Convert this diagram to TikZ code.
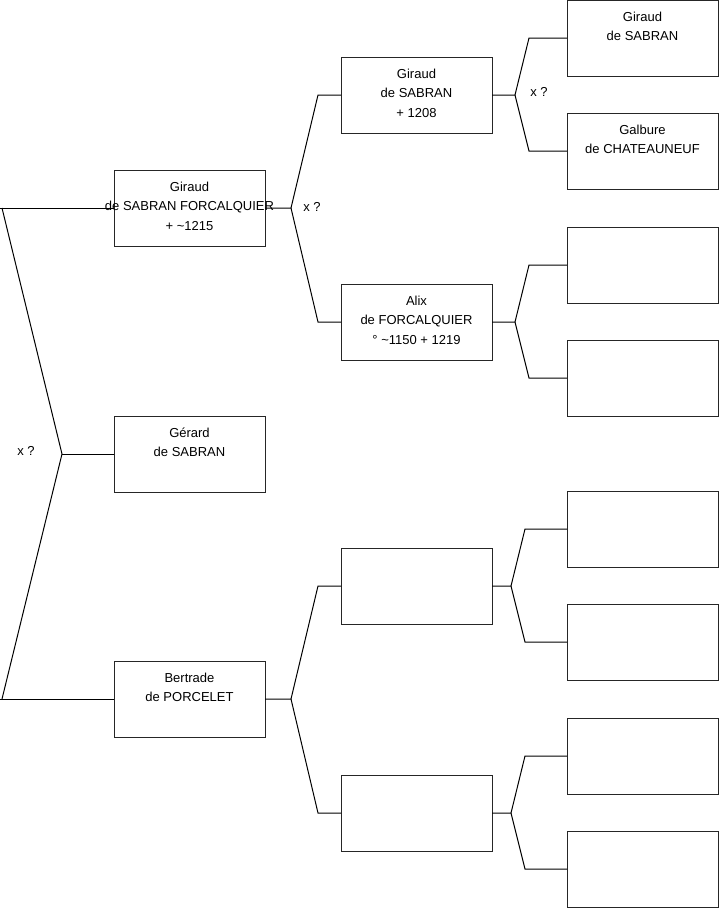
\documentclass[tikz,border=0pt]{standalone}
\usepackage{fontspec}
\setmainfont{Liberation Sans}
\begin{document}
\begin{tikzpicture}[x=1pt,y=-1pt,
  famsbox/.style={draw=black!85,line width=1pt,minimum width=151pt,minimum height=76pt,inner sep=0pt,outer sep=0pt,anchor=north west},
  famtext/.style={align=center,anchor=north,inner sep=0pt,font=\fontsize{13}{19.5}\selectfont},
  link/.style={draw=black,line width=1pt},
  lbl/.style={font=\fontsize{13}{14}\selectfont,inner sep=0pt}]
\useasboundingbox (0,0) rectangle (719,908);
\fill[white] (0,0) rectangle (719,908);

% generation 1
\node[famsbox] (g1a) at (114,170) {};
\node[famsbox] (g1b) at (114,416) {};
\node[famsbox] (g1c) at (114,661) {};
% generation 2
\node[famsbox] (g2a) at (341,57) {};
\node[famsbox] (g2b) at (341,284) {};
\node[famsbox] (g2c) at (341,548) {};
\node[famsbox] (g2d) at (341,775) {};
% generation 3
\node[famsbox] (g3a) at (567,0) {};
\node[famsbox] (g3b) at (567,113) {};
\node[famsbox] (g3c) at (567,227) {};
\node[famsbox] (g3d) at (567,340) {};
\node[famsbox] (g3e) at (567,491) {};
\node[famsbox] (g3f) at (567,604) {};
\node[famsbox] (g3g) at (567,718) {};
\node[famsbox] (g3h) at (567,831) {};

% left bracket
\coordinate (lt) at (0,208);
\coordinate (ltd) at (2,208);
\coordinate (la) at (62,454);
\coordinate (lb) at (0,699);
\coordinate (lbd) at (2,699);
\draw[link] (lt) -- (g1a.west);
\draw[link] (ltd) -- (la) -- (lbd);
\draw[link] (la) -- (g1b.west);
\draw[link] (lb) -- (g1c.west);

% gen1 -> gen2
\coordinate (ja) at (291,208);
\coordinate (jau) at (318,95);
\coordinate (jad) at (318,322);
\draw[link] (g1a.east) -- (ja) -- (jau) -- (g2a.west);
\draw[link] (ja) -- (jad) -- (g2b.west);
\coordinate (jc) at (291,699);
\coordinate (jcu) at (318,586);
\coordinate (jcd) at (318,813);
\draw[link] (g1c.east) -- (jc) -- (jcu) -- (g2c.west);
\draw[link] (jc) -- (jcd) -- (g2d.west);

% gen2 -> gen3
\coordinate (ka) at (515,95);
\coordinate (kau) at (529,38);
\coordinate (kad) at (529,151);
\draw[link] (g2a.east) -- (ka) -- (kau) -- (g3a.west);
\draw[link] (ka) -- (kad) -- (g3b.west);
\coordinate (kb) at (515,322);
\coordinate (kbu) at (529,265);
\coordinate (kbd) at (529,378);
\draw[link] (g2b.east) -- (kb) -- (kbu) -- (g3c.west);
\draw[link] (kb) -- (kbd) -- (g3d.west);
\coordinate (kc) at (511,586);
\coordinate (kcu) at (525,529);
\coordinate (kcd) at (525,642);
\draw[link] (g2c.east) -- (kc) -- (kcu) -- (g3e.west);
\draw[link] (kc) -- (kcd) -- (g3f.west);
\coordinate (kd) at (511,813);
\coordinate (kdu) at (525,756);
\coordinate (kdd) at (525,869);
\draw[link] (g2d.east) -- (kd) -- (kdu) -- (g3g.west);
\draw[link] (kd) -- (kdd) -- (g3h.west);

% texts
\node[famtext] (t1a) at (189.5,181.5) {Giraud\\de SABRAN FORCALQUIER\\+ \char`~1215};
\node[famtext] (t1b) at (189.5,427.5) {G\'erard\\de SABRAN};
\node[famtext] (t1c) at (189.5,672.5) {Bertrade\\de PORCELET};
\node[famtext] (t2a) at (416.5,68.5) {Giraud\\de SABRAN\\+ 1208};
\node[famtext] (t2b) at (416.5,295.5) {Alix\\de FORCALQUIER\\\textdegree{} \char`~1150 + 1219};
\node[famtext] (t3a) at (642.5,11.5) {Giraud\\de SABRAN};
\node[famtext] (t3b) at (642.5,124.5) {Galbure\\de CHATEAUNEUF};

\node[lbl] (x1) at (26,451) {x ?};
\node[lbl] (x2) at (312,207) {x ?};
\node[lbl] (x3) at (539,92) {x ?};
\end{tikzpicture}
\end{document}
